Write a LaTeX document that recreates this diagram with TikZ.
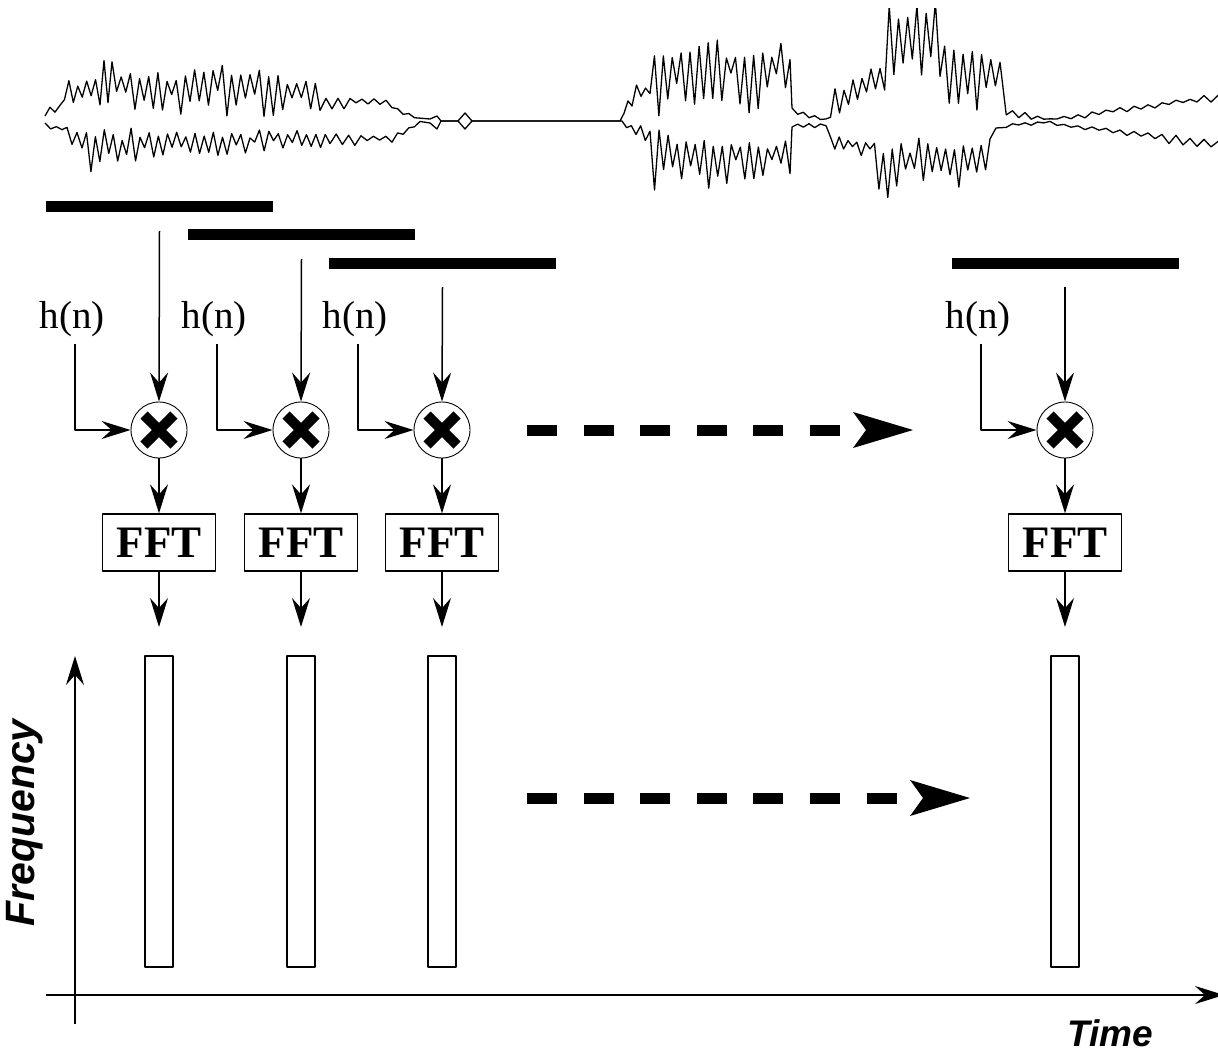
\documentclass[tikz,border=0pt]{standalone}
\usepackage{fontspec}
\setmainfont{Liberation Serif}
\setsansfont{Liberation Sans}
\usetikzlibrary{arrows.meta}

% --- speech waveform: jagged polyline built from banded segments ---
\newcount\wavec
\newcommand\wavepts{}
\newcommand\wpt[2]{\xdef\wavepts{\wavepts -- (#1,#2)}}
% #1,#2: x range; #3,#4: outer edge at start/end; #5,#6: inner edge at start/end; #7: step
\newcommand\wseg[7]{%
  \pgfmathtruncatemacro\wn{max(1,round((#2-#1)/#7))}%
  \foreach \k in {1,...,\wn}{%
    \global\advance\wavec by 1
    \pgfmathsetmacro\wf{\k/\wn}%
    \pgfmathsetmacro\wx{#1+(#2-#1)*\wf}%
    \pgfmathsetmacro\wt{#3+(#4-#3)*\wf}%
    \pgfmathsetmacro\wb{#5+(#6-#5)*\wf}%
    \pgfmathsetmacro\wy{isodd(\the\wavec) ? \wt+(\wb-\wt)*0.25*rnd : \wb-(\wb-\wt)*0.55*rnd}%
    \xdef\wavepts{\wavepts -- (\wx,\wy)}%
  }%
}

\begin{document}
\begin{tikzpicture}[x=1pt,y=-1pt,line join=round,
  conn/.style={line width=1.5pt,-{Stealth[length=29pt,width=18pt,inset=10pt]}},
  wave/.style={line width=1.3pt},
  winbar/.style={fill=black,minimum width=227pt,minimum height=11pt,inner sep=0pt},
  mult/.style={circle,draw,line width=0.9pt,minimum size=56pt,inner sep=0pt},
  xmark/.style={line width=10pt,line cap=butt},
  fftbox/.style={draw,line width=1.3pt,minimum width=113pt,minimum height=57pt,inner sep=0pt,
    font=\bfseries\fontsize{45}{45}\selectfont},
  hlabel/.style={inner sep=0pt,font=\fontsize{39}{39}\selectfont},
  specbar/.style={draw,line width=1.3pt,minimum width=28pt,minimum height=311pt,inner sep=0pt},
  bigdash/.style={line width=11pt,line cap=butt,dash pattern=on 30pt off 26.6pt},
  axislabel/.style={inner sep=0pt,font=\sffamily\bfseries\itshape\fontsize{#1}{#1}\selectfont}
]
\useasboundingbox (0,0) rectangle (1218,1051);

% ---------- waveform ----------
\pgfmathsetseed{4711}
\begin{scope}
\clip (0,9) rectangle (1218,210);
% upper trace
\gdef\wavepts{}
\wseg{45}{60}{106}{104}{116}{112}{5}
\wseg{60}{100}{82}{76}{116}{114}{4.5}
\wseg{100}{112}{60}{58}{104}{106}{4}
\wseg{112}{190}{68}{70}{119}{118}{4.7}
\wseg{190}{250}{65}{64}{118}{117}{4.6}
\wseg{250}{320}{67}{82}{118}{112}{4.6}
\wseg{320}{392}{94}{98}{111}{108}{6}
\wseg{392}{420}{105}{118}{111}{121}{6}
\wpt{430}{119}\wpt{437}{116}\wpt{441}{121}\wpt{458}{121}
\wpt{465}{113}\wpt{472}{121}\wpt{620}{121}
\wseg{620}{632}{114}{94}{121}{110}{4}
\wseg{632}{650}{84}{88}{102}{100}{4.5}
\wseg{650}{690}{56}{46}{127}{118}{4.3}
\wseg{690}{790}{39}{42}{114}{112}{4.5}
\wpt{792}{108}
\wseg{792}{826}{108}{118}{115}{122}{6}
\wseg{826}{880}{94}{60}{121}{104}{4.5}
\wseg{880}{940}{0}{0}{104}{84}{4.5}
\wseg{940}{1000}{24}{56}{110}{118}{4.5}
\wseg{1000}{1050}{106}{118}{117}{122}{6}
\wseg{1050}{1218}{118}{93}{122}{103}{7}
\edef\drawwave{\noexpand\draw[wave] (45,116) \wavepts;}\drawwave
% lower trace
\gdef\wavepts{}
\wseg{45}{62}{124}{126}{128}{134}{5}
\wseg{62}{82}{126}{130}{144}{164}{5}
\wseg{82}{140}{124}{127}{190}{182}{4.6}
\wseg{140}{250}{129}{133}{162}{154}{4.6}
\wseg{250}{330}{129}{131}{152}{148}{4.6}
\wseg{330}{392}{132}{135}{147}{143}{6}
\wseg{392}{420}{135}{121}{143}{124}{6}
\wpt{430}{123}\wpt{437}{129}\wpt{441}{121}\wpt{458}{121}
\wpt{465}{129}\wpt{472}{121}\wpt{622}{121}
\wseg{622}{650}{122}{127}{127}{152}{5}
\wseg{650}{790}{128}{138}{192}{186}{4.5}
\wpt{792}{127}
\wseg{792}{826}{123}{124}{130}{127}{6}
\wseg{826}{870}{135}{139}{152}{158}{4.5}
\wseg{870}{990}{138}{138}{201}{194}{4.5}
\wpt{996}{128}
\wseg{1000}{1050}{124}{121}{128}{124}{6}
\wseg{1050}{1218}{122}{139}{126}{152}{7}
\edef\drawwave{\noexpand\draw[wave] (45,123) \wavepts;}\drawwave
\end{scope}

% ---------- analysis windows ----------
\node[winbar] (w1) at (159.5,207) {};
\node[winbar] (w2) at (301.5,235) {};
\node[winbar] (w3) at (442.5,263) {};
\node[winbar] (w4) at (1065,263) {};

% ---------- processing chains ----------
\foreach \i/\cx in {1/159,2/301,3/442,4/1065}{
  \node[mult]    (m\i) at (\cx,430) {};
  \node[fftbox]  (f\i) at (\cx,542.5) {FFT};
  \node[specbar] (s\i) at (\cx,811.5) {};
  \node[hlabel]  (h\i) at (\cx-87,319) {h(n)};
  \coordinate (hs\i) at (\cx-84,344);
  \coordinate (t\i)  at (\cx,627);
  \draw[xmark] ([shift={(-15pt,-15pt)}]m\i.center) -- ([shift={(15pt,15pt)}]m\i.center)
               ([shift={(-15pt,15pt)}]m\i.center) -- ([shift={(15pt,-15pt)}]m\i.center);
  \draw[conn] ([yshift=-18.5pt]w\i.south) -- (m\i.north);
  \draw[conn] (hs\i) |- (m\i.west);
  \draw[conn] (m\i.south) -- (f\i.north);
  \draw[conn] (f\i.south) -- (t\i);
}

% ---------- continuation arrows ----------
\coordinate (da) at (527,430);  \coordinate (db) at (840,430);  \coordinate (dt) at (913,430);
\coordinate (ea) at (527,798);  \coordinate (eb) at (897,798);  \coordinate (et) at (970,798);
\draw[bigdash] (da) -- (db);
\fill (dt) -- ++(-60,-18) -- ++(13,18) -- ++(-13,18) -- cycle;
\draw[bigdash] (ea) -- (eb);
\fill (et) -- ++(-60,-18) -- ++(13,18) -- ++(-13,18) -- cycle;

% ---------- time-frequency axes ----------
\coordinate (yb) at (75,1024); \coordinate (yt) at (75,656);
\coordinate (xl) at (46,995);  \coordinate (xr) at (1224,995);
\draw[conn] (yb) -- (yt);
\draw[conn] (xl) -- (xr);
\node[axislabel=41,rotate=90] (fl) at (25,823) {Frequency};
\node[axislabel=37] (tl) at (1110,1033) {Time};
\end{tikzpicture}
\end{document}
